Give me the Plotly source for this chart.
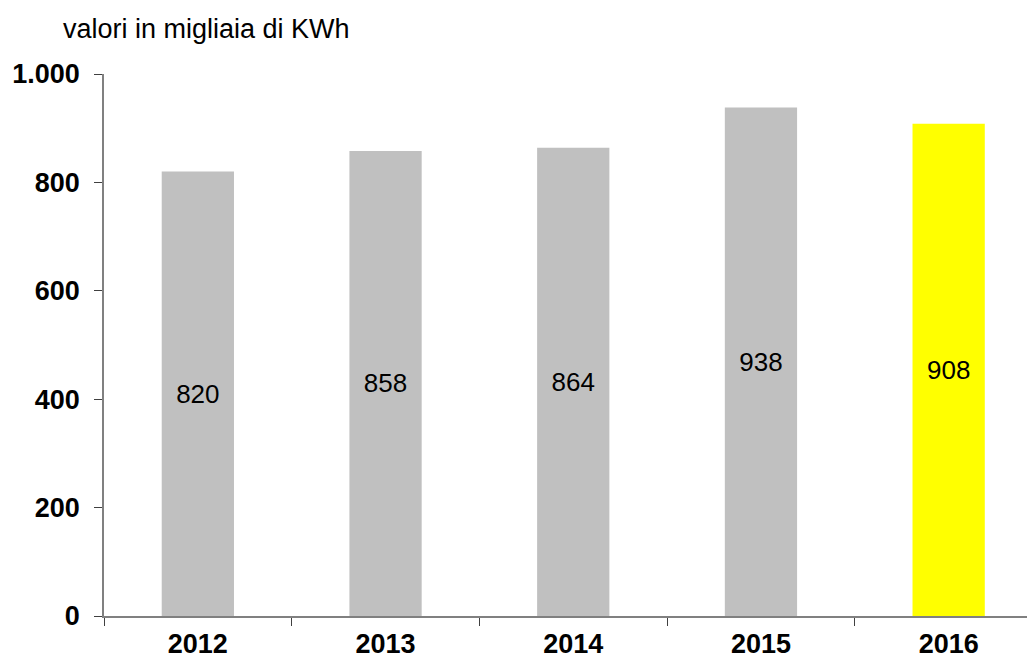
import plotly.graph_objects as go

# consumi annui, migliaia di KWh
years = ["2012", "2013", "2014", "2015", "2016"]
values = [820, 858, 864, 938, 908]
bar_colors = ["#C0C0C0", "#C0C0C0", "#C0C0C0", "#C0C0C0", "#FFFF00"]
y_ticks = [0, 200, 400, 600, 800, 1000]

FONT = "Liberation Sans, Arial, sans-serif"

fig = go.Figure(go.Bar(
    x=years,
    y=values,
    marker_color=bar_colors,
    marker_line_width=0,
    width=0.385,
    text=[str(v) for v in values],
    textposition="inside",
    insidetextanchor="middle",
    textfont=dict(family=FONT, size=26, color="black"),
    textangle=0,
))

fig.update_xaxes(
    type="category",
    range=[-0.5, 4.46],
    showline=True, linecolor="#808080", linewidth=1.5,
    ticks="outside", tickson="boundaries", ticklen=8, tickcolor="#404040",
    tickfont=dict(family=FONT, size=27, color="black", weight="bold"),
    ticklabelstandoff=3,
    automargin=False,
    showgrid=False,
)
fig.update_yaxes(
    range=[0, 1000],
    tickvals=y_ticks,
    tickformat=",d",
    showline=True, linecolor="#808080", linewidth=1.5,
    ticks="outside", ticklen=8, tickcolor="#404040",
    tickfont=dict(family=FONT, size=27, color="black", weight="bold"),
    ticklabelstandoff=9,
    automargin=False,
    showgrid=False, zeroline=False,
)

fig.add_annotation(
    text="valori in migliaia di KWh",
    xref="paper", yref="paper", x=0, y=1.0, xanchor="left", yanchor="middle",
    xshift=-43, yshift=45,
    showarrow=False, font=dict(family=FONT, size=27, color="black"),
)

# page body adds an 8px offset, so the figure is 8px smaller each way
fig.update_layout(
    width=1027, height=651,
    margin=dict(l=96, r=0, t=66, b=43),
    plot_bgcolor="white", paper_bgcolor="white",
    separators=",.",
    showlegend=False,
)

fig.write_html("out.html")
